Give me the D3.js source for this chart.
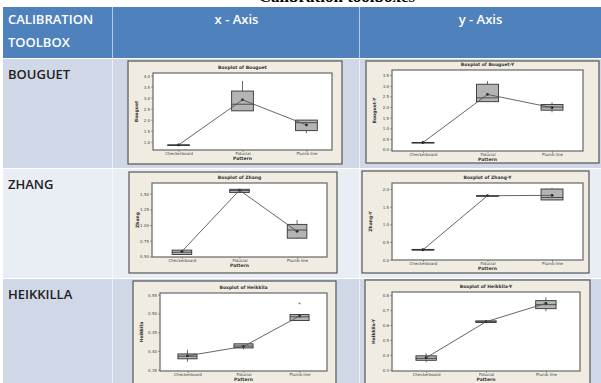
<!DOCTYPE html>
<html>
<head>
<meta charset="utf-8">
<script src="https://cdn.jsdelivr.net/npm/d3@7"></script>
<style>
  body { margin: 0; background: #fff; }
  svg { display: block; }
</style>
</head>
<body>
<svg id="chart" width="601" height="383"></svg>
<script>
// table labels
var toolboxes = ["BOUGUET", "ZHANG", "HEIKKILLA"];
var axisNames = ["x - Axis", "y - Axis"];
var patterns = ["Checkerboard", "Fiducial", "Plumb line"];

// box stats per pattern: [low whisker, q1, median, q3, high whisker, mean]
var bouguetX = [[0.85, 0.85, 0.85, 0.85, 0.85, 0.85], [2.40, 2.40, 2.70, 3.30, 3.76, 2.90], [1.38, 1.50, 1.86, 1.98, 1.98, 1.76]];
var bouguetY = [[0.33, 0.33, 0.33, 0.33, 0.33, 0.33], [2.25, 2.25, 2.43, 3.07, 3.22, 2.59], [1.75, 1.85, 2.00, 2.12, 2.22, 1.97]];
var zhangX = [[0.53, 0.53, 0.565, 0.60, 0.60, 0.58], [1.52, 1.52, 1.55, 1.57, 1.57, 1.555], [0.78, 0.79, 0.92, 1.01, 1.08, 0.90]];
var zhangY = [[0.27, 0.27, 0.28, 0.29, 0.29, 0.28], [1.81, 1.81, 1.81, 1.81, 1.81, 1.81], [1.69, 1.69, 1.76, 2.00, 2.03, 1.82]];
var heikkilaX = [[0.371, 0.379, 0.386, 0.392, 0.403, 0.387], [0.404, 0.408, 0.413, 0.419, 0.419, 0.412], [0.481, 0.481, 0.491, 0.497, 0.497, 0.493]];
var heikkilaY = [[0.35, 0.363, 0.376, 0.393, 0.41, 0.38], [0.617, 0.617, 0.622, 0.628, 0.628, 0.622], [0.693, 0.71, 0.737, 0.764, 0.787, 0.746]];
var heikkilaXOutliers = [[], [], [0.526]];

// y tick values
var bouguetXTicks = [1.0, 1.5, 2.0, 2.5, 3.0, 3.5, 4.0];
var bouguetYTicks = [0.0, 0.5, 1.0, 1.5, 2.0, 2.5, 3.0, 3.5];
var zhangXTicks = [0.50, 0.75, 1.00, 1.25, 1.50];
var zhangYTicks = [0.0, 0.5, 1.0, 1.5, 2.0];
var heikkilaXTicks = [0.35, 0.40, 0.45, 0.50, 0.55];
var heikkilaYTicks = [0.3, 0.4, 0.5, 0.6, 0.7, 0.8];

var charts = [
  { name: "Bouguet", data: bouguetX, ticks: bouguetXTicks, fmt: ".1f", domain: [0.62, 4.12],
    frame: [128, 61, 342, 164], plot: [153, 73, 332, 150], pad: 0.4 },
  { name: "Bouguet-Y", data: bouguetY, ticks: bouguetYTicks, fmt: ".1f", domain: [-0.07, 3.74],
    frame: [366, 61, 599, 163], plot: [392, 70, 583, 151], pad: 0.48 },
  { name: "Zhang", data: zhangX, ticks: zhangXTicks, fmt: ".2f", domain: [0.49, 1.67],
    frame: [129, 172, 337, 273], plot: [152, 183, 327, 257], pad: 0.52 },
  { name: "Zhang-Y", data: zhangY, ticks: zhangYTicks, fmt: ".1f", domain: [-0.01, 2.17],
    frame: [362, 171, 589, 273], plot: [392, 183, 583, 260], pad: 0.48 },
  { name: "Heikkila", data: heikkilaX, ticks: heikkilaXTicks, fmt: ".2f", domain: [0.3465, 0.5545],
    frame: [133, 281, 336, 392], plot: [160, 293, 327, 371], pad: 0.49, outliers: heikkilaXOutliers },
  { name: "Heikkila-Y", data: heikkilaY, ticks: heikkilaYTicks, fmt: ".1f", domain: [0.291, 0.822],
    frame: [365, 280, 590, 392], plot: [392, 292, 580, 371], pad: 0.57 }
];

var svg = d3.select("#chart");

// caption above the table, only its lower edge shows
svg.append("text")
  .attr("x", 337).attr("y", 2)
  .attr("text-anchor", "middle")
  .style("font-family", "Liberation Serif")
  .style("font-weight", "bold")
  .style("font-size", "17px")
  .text("Calibration toolboxes");

// table background
var colX = [3, 113, 360, 601];
var rowY = [7, 58, 168, 278, 383];

svg.append("rect").attr("x", 3).attr("y", 7).attr("width", 598).attr("height", 51).attr("fill", "#4F81BD");
for (var r = 0; r < 3; r++) {
  svg.append("rect")
    .attr("x", 3).attr("y", rowY[r + 1] + 1)
    .attr("width", 598).attr("height", rowY[r + 2] - rowY[r + 1] - 1)
    .attr("fill", r === 1 ? "#E9EDF4" : "#D0D8E8");
}
// column separators
[colX[1], colX[2]].forEach(function(x) {
  svg.append("line").attr("x1", x - 0.5).attr("x2", x - 0.5).attr("y1", 7).attr("y2", 383)
    .attr("stroke", "#fff").attr("stroke-opacity", 0.6).attr("stroke-width", 1);
});

var font = "Open Sans, Lato, sans-serif";
svg.append("text").attr("x", 8).attr("y", 24).attr("fill", "#fff")
  .style("font-family", font).style("font-size", "13px").style("font-weight", 600).text("CALIBRATION");
svg.append("text").attr("x", 8).attr("y", 47).attr("fill", "#fff")
  .style("font-family", font).style("font-size", "13px").style("font-weight", 600).text("TOOLBOX");
axisNames.forEach(function(t, i) {
  svg.append("text").attr("x", (colX[i + 1] + colX[i + 2]) / 2).attr("y", 24)
    .attr("text-anchor", "middle").attr("fill", "#fff")
    .style("font-family", font).style("font-size", "13px").style("font-weight", 600).text(t);
});
toolboxes.forEach(function(t, i) {
  svg.append("text").attr("x", 8).attr("y", rowY[i + 1] + 21)
    .attr("fill", "#222")
    .style("font-family", font).style("font-size", "13px").style("font-weight", 600).text(t);
});

// each Minitab-style boxplot
charts.forEach(function(c) {
  var g = svg.append("g");
  var f = c.frame, p = c.plot;

  g.append("rect")
    .attr("x", f[0]).attr("y", f[1])
    .attr("width", f[2] - f[0]).attr("height", f[3] - f[1])
    .attr("fill", "#F0ECE2").attr("stroke", "#555").attr("stroke-width", 1.2);

  g.append("rect")
    .attr("x", p[0]).attr("y", p[1])
    .attr("width", p[2] - p[0]).attr("height", p[3] - p[1])
    .attr("fill", "#fff").attr("stroke", "#666").attr("stroke-width", 1.2);

  var y = d3.scaleLinear().domain(c.domain).range([p[3], p[1]]);
  var x = d3.scalePoint().domain(patterns).range([p[0], p[2]]).padding(c.pad);
  var bw = x.step() * 0.34;

  var yAxis = g.append("g")
    .attr("transform", "translate(" + p[0] + ",0)")
    .call(d3.axisLeft(y).tickValues(c.ticks).tickSize(2).tickFormat(d3.format(c.fmt)));
  var xAxis = g.append("g")
    .attr("transform", "translate(0," + p[3] + ")")
    .call(d3.axisBottom(x).tickSize(2));
  [yAxis, xAxis].forEach(function(a) {
    a.select(".domain").remove();
    a.selectAll("line").attr("stroke", "#555").attr("stroke-width", 0.5);
    a.selectAll("text").attr("fill", "#444")
      .style("font-family", "DejaVu Sans").style("font-size", "4px");
  });
  yAxis.selectAll("text").attr("x", -3).attr("dy", "0.35em");
  xAxis.selectAll("text").attr("y", 2).attr("dy", "0.71em");

  g.append("text")
    .attr("x", (p[0] + p[2]) / 2).attr("y", p[1] - 4)
    .attr("text-anchor", "middle").attr("fill", "#333")
    .style("font-family", "DejaVu Sans").style("font-weight", "bold").style("font-size", "4.5px")
    .text("Boxplot of " + c.name);

  g.append("text")
    .attr("x", (p[0] + p[2]) / 2).attr("y", p[3] + 10)
    .attr("text-anchor", "middle").attr("fill", "#333")
    .style("font-family", "DejaVu Sans").style("font-weight", "bold").style("font-size", "4.5px")
    .text("Pattern");

  g.append("text")
    .attr("transform", "translate(" + (f[0] + 10) + "," + ((p[1] + p[3]) / 2) + ") rotate(-90)")
    .attr("text-anchor", "middle").attr("fill", "#333")
    .style("font-family", "DejaVu Sans").style("font-weight", "bold").style("font-size", "4.5px")
    .text(c.name);

  var boxes = g.selectAll(".box").data(c.data).enter().append("g").attr("class", "box")
    .attr("transform", function(d, i) { return "translate(" + x(patterns[i]) + ",0)"; });

  boxes.append("line")
    .attr("y1", function(d) { return y(d[0]); }).attr("y2", function(d) { return y(d[1]); })
    .attr("stroke", "#444").attr("stroke-width", 0.8);
  boxes.append("line")
    .attr("y1", function(d) { return y(d[3]); }).attr("y2", function(d) { return y(d[4]); })
    .attr("stroke", "#444").attr("stroke-width", 0.8);
  boxes.append("rect")
    .attr("x", -bw / 2).attr("width", bw)
    .attr("y", function(d) { return y(d[3]); })
    .attr("height", function(d) { return Math.max(y(d[1]) - y(d[3]), 0.6); })
    .attr("fill", "#B4B4B4").attr("stroke", "#333").attr("stroke-width", 0.9);
  boxes.append("line")
    .attr("x1", -bw / 2).attr("x2", bw / 2)
    .attr("y1", function(d) { return y(d[2]); }).attr("y2", function(d) { return y(d[2]); })
    .attr("stroke", "#333").attr("stroke-width", 0.8);

  // line through the means
  g.append("path")
    .datum(c.data)
    .attr("d", d3.line().x(function(d, i) { return x(patterns[i]); }).y(function(d) { return y(d[5]); }))
    .attr("fill", "none").attr("stroke", "#555").attr("stroke-width", 0.9);

  boxes.append("circle")
    .attr("cy", function(d) { return y(d[5]); }).attr("r", 1.4)
    .attr("fill", "#222");

  if (c.outliers) {
    c.outliers.forEach(function(vals, i) {
      vals.forEach(function(v) {
        g.append("text")
          .attr("x", x(patterns[i])).attr("y", y(v)).attr("dy", "0.5em")
          .attr("text-anchor", "middle").attr("fill", "#333")
          .style("font-family", "DejaVu Sans").style("font-size", "5px")
          .text("*");
      });
    });
  }
});
</script>
</body>
</html>
